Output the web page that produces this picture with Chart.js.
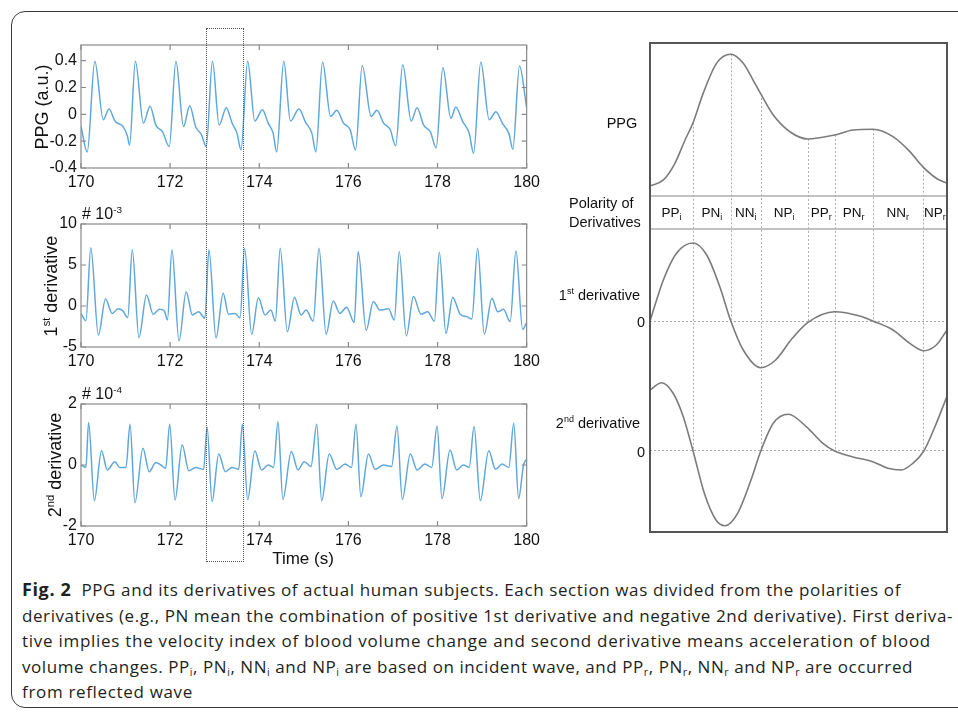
<!DOCTYPE html>
<html>
<head>
<meta charset="utf-8">
<script src="https://cdn.jsdelivr.net/npm/chart.js@4"></script>
<style>
  body { margin: 0; background: #fff; }
  #page { position: relative; width: 958px; height: 714px; overflow: hidden; font-family: 'Liberation Sans', Arial, sans-serif; color: #111; }
  .frame { position: absolute; left: 11px; top: 11px; width: 975px; height: 695px; border: 1.5px solid #3a3a3a; border-radius: 14px; }
  .box { position: absolute; }
  .lbl { position: absolute; white-space: nowrap; line-height: 1; z-index: 3; }
  .mid { transform: translate(-50%, -50%); }
  .rot { transform: translate(-50%, -50%) rotate(-90deg); }
  .rgt { transform: translate(-100%, -50%); }
  .lft { transform: translate(0, -50%); }
  sup { font-size: 0.62em; vertical-align: 0.6em; line-height: 0; }
  #zoomBox { position: absolute; left: 206px; top: 28px; width: 36px; height: 532px; border: 1.5px dotted #555; z-index: 5; }
  .caption { position: absolute; left: 22px; top: 577px; font-family: 'Open Sans', sans-serif; font-size: 17px; color: #231f20; z-index: 3; }
  .caption div { height: 25.5px; line-height: 25.5px; white-space: nowrap; }
  .caption b { font-size: 18px; }
  .caption sub { font-size: 0.62em; vertical-align: -0.3em; line-height: 0; }
</style>
</head>
<body>
<div id="page">
  <div class="frame"></div>

  <div class="box" style="left:0px; top:30px; width:545px; height:165px;"><canvas id="ppg-chart"></canvas></div>
  <div class="box" style="left:0px; top:209px; width:545px; height:165px;"><canvas id="d1-chart"></canvas></div>
  <div class="box" style="left:0px; top:389px; width:545px; height:164px;"><canvas id="d2-chart"></canvas></div>
  <div class="box" style="left:560px; top:0px; width:398px; height:560px;"><canvas id="phase-chart"></canvas></div>
  <div id="zoomBox"></div>

  <div class="lbl rot" style="left:42px; top:107px; font-size:18px;">PPG (a.u.)</div>
  <div class="lbl rot" style="left:51px; top:286px; font-size:18px;">1<sup>st</sup> derivative</div>
  <div class="lbl rot" style="left:55px; top:465px; font-size:18px;">2<sup>nd</sup> derivative</div>
  <div class="lbl lft" style="left:82px; top:214px; font-size:16px;"># 10<sup>-3</sup></div>
  <div class="lbl lft" style="left:82px; top:394px; font-size:16px;"># 10<sup>-4</sup></div>
  <div class="lbl mid" style="left:303px; top:558px; font-size:17px;">Time (s)</div>

  <div class="lbl mid" style="left:622px; top:123px; font-size:14.5px;">PPG</div>
  <div class="lbl lft" style="left:569px; top:203px; font-size:14.5px;">Polarity of</div>
  <div class="lbl lft" style="left:569px; top:222px; font-size:14.5px;">Derivatives</div>
  <div class="lbl rgt" style="left:640px; top:295px; font-size:14.5px;">1<sup>st</sup> derivative</div>
  <div class="lbl rgt" style="left:645px; top:322px; font-size:14.5px;">0</div>
  <div class="lbl rgt" style="left:640px; top:423px; font-size:14.5px;">2<sup>nd</sup> derivative</div>
  <div class="lbl rgt" style="left:645px; top:452px; font-size:14.5px;">0</div>

  <div class="caption" id="caption">
    <div><b>Fig. 2</b>&nbsp; PPG and its derivatives of actual human subjects. Each section was divided from the polarities of</div>
    <div>derivatives (e.g., PN mean the combination of positive 1st derivative and negative 2nd derivative). First deriva-</div>
    <div>tive implies the velocity index of blood volume change and second derivative means acceleration of blood</div>
    <div>volume changes. PP<sub>i</sub>, PN<sub>i</sub>, NN<sub>i</sub> and NP<sub>i</sub> are based on incident wave, and PP<sub>r</sub>, PN<sub>r</sub>, NN<sub>r</sub> and NP<sub>r</sub> are occurred</div>
    <div>from reflected wave</div>
  </div>
</div>

<script>
//measured signals (time in s, value)
const TIME_TICKS = [170, 172, 174, 176, 178, 180];
const PPG_TICKS = [-0.4, -0.2, 0, 0.2, 0.4];
const D1_TICKS = [-5, 0, 5, 10];
const D2_TICKS = [-2, 0, 2];

const PPG_SIGNAL = [
    [170.00, -0.09], [170.14, -0.28], [170.31, 0.395], [170.50, -0.04], [170.63, 0.04], [170.76, -0.05], [170.94, -0.09], [171.04, -0.16],
    [171.09, -0.23], [171.22, 0.395], [171.40, -0.065], [171.55, 0.06], [171.68, -0.08], [171.83, -0.13],
    [171.98, -0.24], [172.13, 0.395], [172.30, -0.09], [172.44, 0.065], [172.57, -0.09], [172.70, -0.15],
    [172.81, -0.24], [172.95, 0.395], [173.10, -0.08], [173.26, 0.05], [173.39, -0.065], [173.50, -0.14],
    [173.59, -0.265], [173.74, 0.395], [173.90, -0.05], [174.07, 0.035], [174.20, -0.065], [174.31, -0.14],
    [174.39, -0.28], [174.55, 0.395], [174.70, -0.05], [174.89, 0.04], [175.04, -0.06], [175.18, -0.14],
    [175.27, -0.28], [175.42, 0.39], [175.60, -0.015], [175.74, 0.03], [175.89, -0.065], [176.04, -0.115],
    [176.16, -0.265], [176.31, 0.365], [176.51, -0.015], [176.64, 0.03], [176.79, -0.065], [176.94, -0.115],
    [177.06, -0.235], [177.22, 0.37], [177.41, -0.05], [177.54, 0.05], [177.69, -0.08], [177.84, -0.13],
    [177.97, -0.25], [178.12, 0.35], [178.30, -0.03], [178.41, 0.055], [178.56, -0.05], [178.71, -0.14],
    [178.81, -0.29], [178.97, 0.39], [179.16, -0.04], [179.31, 0.02], [179.46, -0.07], [179.60, -0.14],
    [179.69, -0.26], [179.84, 0.36], [180.00, 0.05]
];

// x 10^-3
const D1_SIGNAL = [
    [170.00, -0.9], [170.11, -1.8], [170.22, 7.1], [170.39, -3.55], [170.55, 0.85], [170.70, -0.9], [170.83, -0.35], [170.94, -0.6], [171.05, -1.4],
    [171.15, 6.85], [171.30, -3.85], [171.47, 1.35], [171.62, -1.0], [171.76, -0.4], [171.87, -0.6], [171.94, -1.7],
    [172.04, 6.85], [172.20, -4.25], [172.36, 1.75], [172.50, -1.1], [172.64, -0.7], [172.78, -1.5],
    [172.87, 6.85], [173.03, -3.9], [173.19, 1.55], [173.31, -1.0], [173.46, -0.9], [173.57, -1.45],
    [173.67, 7.05], [173.83, -3.45], [173.98, 1.0], [174.13, -1.1], [174.26, -0.5], [174.36, -1.85],
    [174.47, 7.05], [174.63, -3.15], [174.79, 1.05], [174.94, -1.1], [175.05, -0.5], [175.21, -1.85],
    [175.34, 7.05], [175.50, -3.45], [175.66, 0.6], [175.81, -0.9], [175.96, -0.15], [176.13, -2.0],
    [176.22, 6.65], [176.40, -2.95], [176.56, 0.55], [176.71, -0.5], [176.90, -0.35], [177.03, -1.7],
    [177.14, 6.65], [177.30, -3.65], [177.46, 1.15], [177.63, -1.0], [177.78, -0.7], [177.93, -1.85],
    [178.04, 6.55], [178.19, -3.35], [178.34, 1.05], [178.51, -1.0], [178.66, -1.3], [178.77, -1.6],
    [178.90, 7.05], [179.05, -3.45], [179.22, 0.95], [179.35, -0.7], [179.48, -0.4], [179.63, -1.9],
    [179.76, 6.75], [179.91, -2.85], [180.00, -2.0]
];

// x 10^-4
const D2_SIGNAL = [
    [170.00, 0], [170.11, -0.08], [170.17, 1.39], [170.30, -1.17], [170.46, 0.47], [170.59, -0.16], [170.76, 0.11], [170.87, -0.08], [171.01, -0.08],
    [171.10, 1.34], [171.21, -1.24], [171.39, 0.55], [171.53, -0.22], [171.68, 0.08], [171.79, 0], [171.90, -0.11],
    [171.99, 1.34], [172.11, -1.15], [172.27, 0.66], [172.42, -0.19], [172.57, -0.08], [172.75, -0.14],
    [172.83, 1.24], [172.94, -1.2], [173.09, 0.36], [173.24, -0.22], [173.39, -0.08], [173.54, -0.14],
    [173.62, 1.34], [173.74, -1.13], [173.90, 0.47], [174.05, -0.16], [174.20, 0], [174.32, -0.08],
    [174.42, 1.42], [174.53, -1.13], [174.72, 0.44], [174.87, -0.16], [175.01, 0.11], [175.16, -0.05],
    [175.29, 1.34], [175.40, -1.17], [175.57, 0.36], [175.74, -0.14], [175.93, 0.03], [176.07, -0.08],
    [176.17, 1.34], [176.28, -1.04], [176.45, 0.36], [176.60, -0.14], [176.79, 0], [176.97, -0.05],
    [177.09, 1.28], [177.21, -1.13], [177.39, 0.36], [177.54, -0.16], [177.72, 0.03], [177.87, -0.08],
    [177.99, 1.28], [178.10, -1.1], [178.28, 0.49], [178.43, -0.16], [178.58, 0], [178.71, -0.08],
    [178.82, 1.26], [178.96, -1.17], [179.15, 0.47], [179.30, -0.14], [179.45, 0.03], [179.60, -0.08],
    [179.71, 1.37], [179.82, -1.1], [179.93, 0], [180.00, 0.19]
];

//schematic (phase 0..100, arbitrary units)
const PHASE_BOUNDS = [14.5, 27.2, 37.3, 53.1, 62.2, 75.0, 91.8];
const BOUND_ENDS = ['y2', 'y1', 'y2', 'y1', 'y2', 'y1', 'y2'];
const PHASE_NAMES = ['PP', 'PN', 'NN', 'NP', 'PP', 'PN', 'NN', 'NP'];
const PHASE_WAVES = ['i', 'i', 'i', 'i', 'r', 'r', 'r', 'r'];

const PPG_SHAPE = [
    [0, 0.065], [4.5, 0.105], [8.4, 0.214], [11.8, 0.366], [14.5, 0.479], [17.9, 0.671], [22.4, 0.867], [27.2, 0.926],
    [31.4, 0.867], [34.7, 0.758], [37.3, 0.667], [41.5, 0.529], [47.1, 0.42], [53.1, 0.373], [62.2, 0.399], [68.4, 0.431],
    [75.0, 0.436], [81.8, 0.388], [87.5, 0.29], [91.8, 0.192], [96.4, 0.116], [100, 0.083]
];
const D1_SHAPE = [
    [0, 0], [4.5, 0.526], [8.9, 0.868], [14.5, 1.0], [19.1, 0.846], [23.5, 0.439], [27.2, 0], [31.4, -0.372],
    [37.3, -0.599], [42.3, -0.5], [47.9, -0.222], [53.1, -0.02], [62.2, 0.119], [70.6, 0.064], [75.0, 0],
    [81.8, -0.115], [87.5, -0.286], [92.2, -0.381], [96.4, -0.308], [100, -0.115]
];
const D2_SHAPE = [
    [0, 0.824], [3.9, 0.923], [7.8, 0.78], [11.2, 0.464], [14.5, 0], [18.3, -0.572], [22.2, -0.932], [25.3, -1.01],
    [29.5, -0.842], [34.0, -0.392], [37.3, 0], [41.5, 0.375], [46.6, 0.496], [52.6, 0.329], [58.2, 0.104], [62.2, 0],
    [68.0, -0.077], [75.0, -0.144], [80.1, -0.234], [84.6, -0.257], [88.5, -0.166], [92.2, 0], [95.9, 0.324], [100, 0.74]
];

Chart.defaults.font.family = "'Liberation Sans', Arial, sans-serif";
Chart.defaults.color = '#111';

//box with inward ticks, matlab style
const matlabBox = {
    id: 'matlabBox',
    afterDraw(chart) {
        const {ctx, chartArea: a, scales: {x, y}} = chart;
        ctx.save();
        ctx.strokeStyle = '#8a8a8a';
        ctx.lineWidth = 1.2;
        ctx.strokeRect(a.left, a.top, a.width, a.height);
        ctx.beginPath();
        x.ticks.forEach(t => {
            const px = x.getPixelForValue(t.value);
            ctx.moveTo(px, a.bottom); ctx.lineTo(px, a.bottom - 5);
            ctx.moveTo(px, a.top); ctx.lineTo(px, a.top + 5);
        });
        y.ticks.forEach(t => {
            const py = y.getPixelForValue(t.value);
            ctx.moveTo(a.left, py); ctx.lineTo(a.left + 5, py);
            ctx.moveTo(a.right, py); ctx.lineTo(a.right - 5, py);
        });
        ctx.stroke();
        ctx.restore();
    }
};

const phaseMarks = {
    id: 'phaseMarks',
    beforeDatasetsDraw(chart) {
        const {ctx, scales} = chart;
        ctx.save();
        ctx.strokeStyle = '#b0b0b0';
        ctx.lineWidth = 1;
        ctx.setLineDash([2, 2]);
        PHASE_BOUNDS.forEach((b, i) => {
            const top = PPG_SHAPE.find(p => p[0] === b)[1];
            const px = Math.round(scales.x.getPixelForValue(b)) + 0.5;
            ctx.beginPath();
            ctx.moveTo(px, scales.yP.getPixelForValue(top));
            ctx.lineTo(px, scales[BOUND_ENDS[i]].getPixelForValue(0));
            ctx.stroke();
        });
        ctx.restore();
    },
    afterDraw(chart) {
        const {ctx, chartArea: a, scales} = chart;
        ctx.save();
        ctx.strokeStyle = '#555';
        ctx.lineWidth = 2;
        ctx.strokeRect(a.left, a.top, a.width, a.height);

        //polarity labels with subscripts
        const edges = [0, ...PHASE_BOUNDS, 100];
        const base = scales.yB.getPixelForValue(0.5) + 4;
        ctx.fillStyle = '#111';
        ctx.textBaseline = 'alphabetic';
        PHASE_NAMES.forEach((name, i) => {
            const cx = scales.x.getPixelForValue((edges[i] + edges[i + 1]) / 2);
            ctx.font = "13.5px 'Liberation Sans'";
            const w1 = ctx.measureText(name).width;
            ctx.font = "9px 'Liberation Sans'";
            const w2 = ctx.measureText(PHASE_WAVES[i]).width;
            const left = cx - (w1 + w2) / 2;
            ctx.font = "13.5px 'Liberation Sans'";
            ctx.fillText(name, left, base);
            ctx.font = "9px 'Liberation Sans'";
            ctx.fillText(PHASE_WAVES[i], left + w1, base + 3);
        });
        ctx.restore();
    }
};

function toPoints(pairs) {
    return pairs.map(p => ({x: p[0], y: p[1]}));
}

function fixedTicks(values) {
    return scale => { scale.ticks = values.map(v => ({value: v})); };
}

function initSignalConfig(points, yMin, yMax, yTicks) {
    return {
        type: 'line',
        data: {
            datasets: [{
                data: toPoints(points),
                borderColor: 'rgb(96,168,220)',
                borderWidth: 1.5,
                pointRadius: 0,
                cubicInterpolationMode: 'monotone',
                fill: false
            }]
        },
        options: {
            responsive: true,
            maintainAspectRatio: false,
            animation: false,
            layout: {padding: {left: 20, right: 17, top: 15, bottom: 0}},
            plugins: {legend: {display: false}, tooltip: {enabled: false}},
            scales: {
                x: {
                    type: 'linear', min: 170, max: 180,
                    afterBuildTicks: fixedTicks(TIME_TICKS),
                    afterFit: s => { s.height = 27; },
                    grid: {display: false, drawTicks: false}, border: {display: false},
                    ticks: {padding: 5, font: {size: 16}, maxRotation: 0, autoSkip: false}
                },
                y: {
                    type: 'linear', min: yMin, max: yMax,
                    afterBuildTicks: fixedTicks(yTicks),
                    afterFit: s => { s.width = 61; },
                    grid: {display: false, drawTicks: false}, border: {display: false},
                    ticks: {padding: 4, font: {size: 16}, callback: v => String(+v.toFixed(1))}
                }
            }
        },
        plugins: [matlabBox]
    };
}

function stackedAxis(weight, min, max, extra) {
    return Object.assign({
        type: 'linear', position: 'left', stack: 'panel', stackWeight: weight,
        min: min, max: max,
        afterFit: s => { s.width = 0; },
        grid: {display: false, drawTicks: false},
        border: {display: false},
        ticks: {display: false}
    }, extra);
}

function shapeDataset(pairs, axis) {
    return {
        data: toPoints(pairs),
        yAxisID: axis,
        borderColor: '#7b7b7b',
        borderWidth: 1.6,
        pointRadius: 0,
        cubicInterpolationMode: 'monotone',
        fill: false
    };
}

function createCharts() {
    new Chart(document.getElementById('ppg-chart'), initSignalConfig(PPG_SIGNAL, -0.4, 0.517, PPG_TICKS));
    new Chart(document.getElementById('d1-chart'), initSignalConfig(D1_SIGNAL, -5, 10, D1_TICKS));
    new Chart(document.getElementById('d2-chart'), initSignalConfig(D2_SIGNAL, -2, 2, D2_TICKS));

    const zeroAxis = {
        afterBuildTicks: fixedTicks([0]),
        grid: {display: true, drawTicks: false, color: '#a8a8a8', lineWidth: 1},
        border: {display: false, dash: [2, 2]}
    };

    // stacked panels are laid out bottom-up, so the lowest one comes first
    new Chart(document.getElementById('phase-chart'), {
        type: 'line',
        data: {
            datasets: [
                shapeDataset(PPG_SHAPE, 'yP'),
                shapeDataset(D1_SHAPE, 'y1'),
                shapeDataset(D2_SHAPE, 'y2')
            ]
        },
        options: {
            responsive: true,
            maintainAspectRatio: false,
            animation: false,
            layout: {padding: {left: 90, right: 11, top: 43, bottom: 28}},
            plugins: {legend: {display: false}, tooltip: {enabled: false}},
            scales: {
                x: {type: 'linear', min: 0, max: 100, display: false},
                y2: stackedAxis(157, -1.095, 1.027, zeroAxis),
                y1: stackedAxis(146, -0.692, 1.179, zeroAxis),
                yB: stackedAxis(33, 0, 1, {
                    afterBuildTicks: fixedTicks([0, 1]),
                    grid: {display: true, drawTicks: false, color: '#c2c2c2', lineWidth: 2}
                }),
                yP: stackedAxis(153, 0, 1, {})
            }
        },
        plugins: [phaseMarks]
    });
}

//stretch caption lines to the printed line lengths
function fitCaption() {
    const widths = [879, 931, 909, 891, 171];
    document.querySelectorAll('#caption div').forEach((line, i) => {
        const span = document.createElement('span');
        span.innerHTML = line.innerHTML;
        line.innerHTML = '';
        line.appendChild(span);
        const w = span.getBoundingClientRect().width;
        const n = span.textContent.length;
        span.style.letterSpacing = ((widths[i] - w) / n) + 'px';
    });
}

createCharts();
fitCaption();
</script>
</body>
</html>
